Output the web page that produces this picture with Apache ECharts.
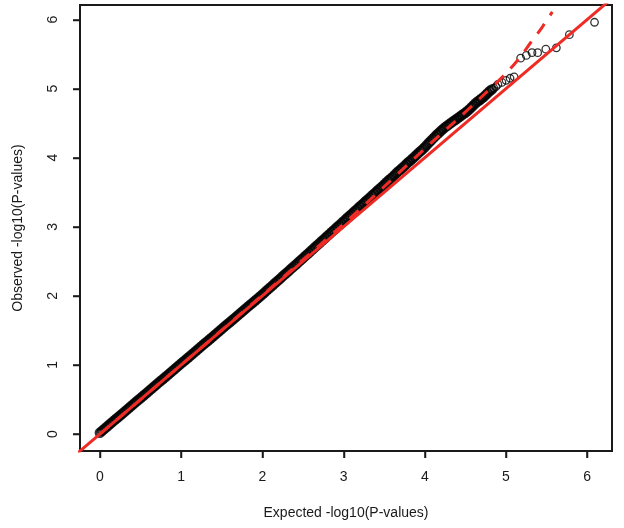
<!DOCTYPE html>
<html>
<head>
<meta charset="utf-8">
<script src="https://cdn.jsdelivr.net/npm/echarts@6/dist/echarts.min.js"></script>
<style>
html,body{margin:0;padding:0;background:#fff;}
#chart{width:624px;height:528px;}
</style>
</head>
<body>
<div id="chart"></div>
<script>
// ---- data ----
const xTicks = [0, 1, 2, 3, 4, 5, 6];
const yTicks = [0, 1, 2, 3, 4, 5, 6];
const xTitle = 'Expected -log10(P-values)';
const yTitle = 'Observed -log10(P-values)';

// dense band of points (expected, observed)
const bandExpected = [
0,0.025,0.05,0.075,0.1,0.125,0.15,0.175,0.2,0.225,0.25,0.275,0.3,0.325,0.35,0.375,0.4,0.425,0.45,0.475,
0.5,0.525,0.55,0.575,0.6,0.625,0.65,0.675,0.7,0.725,0.75,0.775,0.8,0.825,0.85,0.875,0.9,0.925,0.95,0.975,
1,1.025,1.05,1.075,1.1,1.125,1.15,1.175,1.2,1.225,1.25,1.275,1.3,1.325,1.35,1.375,1.4,1.425,1.45,1.475,
1.5,1.525,1.55,1.575,1.6,1.625,1.65,1.675,1.7,1.725,1.75,1.775,1.8,1.825,1.85,1.875,1.9,1.925,1.95,1.975,
2,2.025,2.05,2.075,2.1,2.125,2.15,2.175,2.2,2.225,2.25,2.275,2.3,2.325,2.35,2.375,2.4,2.425,2.45,2.475,
2.5,2.525,2.55,2.575,2.6,2.625,2.65,2.675,2.7,2.725,2.75,2.775,2.8,2.825,2.85,2.875,2.9,2.925,2.95,2.975,
3,3.025,3.05,3.075,3.1,3.125,3.15,3.175,3.2,3.225,3.25,3.275,3.3,3.325,3.35,3.375,3.4,3.425,3.45,3.475,
3.5,3.525,3.55,3.575,3.6,3.625,3.65,3.675,3.7,3.725,3.75,3.775,3.8,3.825,3.85,3.875,3.9,3.925,3.95,3.975,
4,4.025,4.05,4.075,4.1,4.125,4.15,4.175,4.2,4.225,4.25,4.275,4.3,4.325,4.35,4.375,4.4,4.425,4.45,4.475,
4.5,4.525,4.55,4.575,4.6,4.625,4.65,4.675,4.7,4.725,4.75,4.775,4.8,4.825
];
const bandObserved = [
0.02,0.045,0.07,0.095,0.12,0.145,0.17,0.195,0.22,0.245,0.27,0.295,0.32,0.345,0.37,0.395,0.42,0.445,0.47,0.495,
0.52,0.545,0.57,0.595,0.62,0.645,0.67,0.695,0.72,0.745,0.77,0.795,0.82,0.845,0.87,0.895,0.92,0.945,0.97,0.995,
1.02,1.045,1.07,1.095,1.12,1.145,1.17,1.195,1.22,1.245,1.27,1.295,1.32,1.345,1.37,1.395,1.42,1.445,1.47,1.495,
1.52,1.545,1.57,1.595,1.62,1.645,1.67,1.695,1.72,1.745,1.77,1.795,1.82,1.845,1.87,1.895,1.92,1.945,1.97,1.995,
2.02,2.046,2.073,2.099,2.125,2.151,2.178,2.204,2.23,2.256,2.283,2.309,2.335,2.361,2.388,2.414,2.44,2.466,2.493,2.519,
2.545,2.572,2.599,2.625,2.652,2.679,2.706,2.732,2.759,2.786,2.813,2.839,2.866,2.893,2.92,2.946,2.973,3.0,3.027,3.053,
3.08,3.107,3.133,3.16,3.186,3.213,3.24,3.266,3.293,3.319,3.346,3.372,3.399,3.425,3.452,3.478,3.505,3.531,3.558,3.584,
3.612,3.641,3.668,3.692,3.718,3.747,3.776,3.803,3.827,3.853,3.881,3.91,3.937,3.961,3.987,4.015,4.043,4.071,4.097,4.124,
4.152,4.183,4.215,4.246,4.276,4.305,4.334,4.362,4.389,4.415,4.44,4.463,4.485,4.505,4.526,4.547,4.568,4.589,4.61,4.631,
4.652,4.675,4.701,4.73,4.76,4.788,4.812,4.833,4.855,4.879,4.907,4.937,4.965,4.988
];
// sparser circles at the upper end
const tailExpected = [4.85,4.875,4.9,4.95,5.0,5.05,5.1,5.18,5.25,5.32,5.39,5.49,5.62,5.78,6.09];
const tailObserved = [5.008,5.027,5.06,5.09,5.12,5.15,5.17,5.44,5.48,5.52,5.52,5.57,5.59,5.78,5.96];

// reference line y = x (solid) and inflation curve (dashed)
const solidLineX = [-1, 7];
const solidLineY = [-1, 7];
const dashX = [0, 1, 2, 3, 3.5, 4, 4.35, 4.68, 5.0, 5.17, 5.3, 5.44, 5.57];
const dashY = [0, 1, 2.01, 3.04, 3.58, 4.13, 4.5, 4.86, 5.22, 5.45, 5.66, 5.88, 6.11];

// ---- chart ----
const X_MIN = -0.245, X_MAX = 6.305, Y_MIN = -0.245, Y_MAX = 6.21;
const zip = (a, b) => a.map((v, i) => [v, b[i]]);
const FONT = 'Liberation Sans, Arial, sans-serif';
const INK = '#1a1a1a';
const RED = '#ee2b25';
const TICK_LEN = 7;

const chart = echarts.init(document.getElementById('chart'));
chart.setOption({
  animation: false,
  grid: {
    left: 80, right: 12, top: 5, bottom: 77,
    show: true, borderColor: INK, borderWidth: 2
  },
  xAxis: {
    type: 'value', min: X_MIN, max: X_MAX, position: 'bottom',
    name: xTitle, nameLocation: 'middle', nameGap: 55,
    nameTextStyle: {fontFamily: FONT, fontSize: 14, color: INK},
    axisLine: {show: true, onZero: false, lineStyle: {color: INK, width: 2}},
    splitLine: {show: false},
    axisTick: {show: true, inside: false, length: TICK_LEN, lineStyle: {color: INK, width: 1.5}, customValues: xTicks},
    axisLabel: {customValues: xTicks, margin: 19, fontFamily: FONT, fontSize: 14, color: INK}
  },
  yAxis: {
    type: 'value', min: Y_MIN, max: Y_MAX, position: 'left',
    name: yTitle, nameLocation: 'middle', nameGap: 55,
    nameTextStyle: {fontFamily: FONT, fontSize: 14, color: INK},
    axisLine: {show: true, onZero: false, lineStyle: {color: INK, width: 2}},
    splitLine: {show: false},
    axisTick: {show: true, inside: false, length: TICK_LEN, lineStyle: {color: INK, width: 1.5}, customValues: yTicks},
    axisLabel: {customValues: yTicks, rotate: 90, margin: 20, fontFamily: FONT, fontSize: 14, color: INK}
  },
  series: [
    {
      type: 'scatter',
      data: zip(bandExpected, bandObserved),
      symbol: 'circle',
      symbolSize: 8,
      itemStyle: {color: 'rgba(0,0,0,0)', borderColor: '#000', borderWidth: 2.6},
      z: 2,
      silent: true
    },
    {
      type: 'scatter',
      data: zip(tailExpected, tailObserved),
      symbol: 'circle',
      symbolSize: 7.5,
      itemStyle: {color: 'rgba(0,0,0,0)', borderColor: '#000', borderWidth: 1.3},
      z: 2,
      silent: true
    },
    {
      type: 'line',
      data: zip(solidLineX, solidLineY),
      symbol: 'none',
      lineStyle: {color: RED, width: 3},
      clip: true,
      z: 4,
      silent: true
    },
    {
      type: 'line',
      data: zip(dashX, dashY),
      symbol: 'none',
      smooth: 0.3,
      lineStyle: {color: RED, width: 3, type: [12, 10]},
      clip: true,
      z: 3,
      silent: true
    },
    // outward R-style tick marks drawn through the axis scales
    {
      type: 'custom',
      clip: false,
      silent: true,
      z: 10,
      data: xTicks.map(v => [v, Y_MIN]),
      encode: {x: 0, y: 1},
      renderItem: function (params, api) {
        const p = api.coord([api.value(0), api.value(1)]);
        const x = Math.round(p[0]) + 0.5;
        return {type: 'line', shape: {x1: x, y1: p[1], x2: x, y2: p[1] + TICK_LEN},
                style: {stroke: INK, lineWidth: 1.5}};
      }
    },
    {
      type: 'custom',
      clip: false,
      silent: true,
      z: 10,
      data: yTicks.map(v => [X_MIN, v]),
      encode: {x: 0, y: 1},
      renderItem: function (params, api) {
        const p = api.coord([api.value(0), api.value(1)]);
        const y = Math.round(p[1]) + 0.5;
        return {type: 'line', shape: {x1: p[0] - TICK_LEN, y1: y, x2: p[0], y2: y},
                style: {stroke: INK, lineWidth: 1.5}};
      }
    }
  ]
});
</script>
</body>
</html>
